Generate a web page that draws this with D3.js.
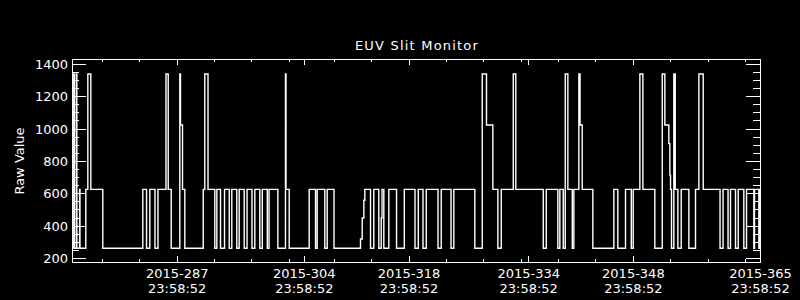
<!DOCTYPE html>
<html>
<head>
<meta charset="utf-8">
<script src="https://cdn.jsdelivr.net/npm/d3@7"></script>
<style>
  body { margin: 0; background: #000; }
  svg { display: block; }
  text { font-family: "DejaVu Sans", sans-serif; fill: #fff; }
</style>
</head>
<body>
<svg id="chart" width="800" height="300"></svg>
<script>
// day of 2015 where the raw value changes, and the value it changes to
const stepDay = [
  273.09, 273.17, 273.25, 273.51, 273.58, 273.95, 274.00, 274.78, 275.05, 275.45,
  277.05, 282.40, 282.90, 283.34, 284.03, 284.43, 285.50, 285.80, 286.20, 287.35,
  287.44, 287.71, 288.02, 290.48, 290.69, 291.12, 292.03, 292.30, 292.79, 293.33,
  293.96, 294.30, 294.97, 295.29, 295.96, 296.34, 297.00, 297.38, 298.05, 298.38,
  299.05, 299.28, 300.46, 301.48, 301.55, 301.98, 304.65, 305.50, 305.72, 306.74,
  307.06, 307.97, 311.51, 311.74, 311.96, 312.09, 312.85, 313.29, 313.96, 314.28,
  314.39, 314.63, 315.30, 316.33, 317.37, 318.80, 319.24, 319.87, 320.30, 321.88,
  322.31, 323.62, 323.99, 326.80, 327.79, 328.36, 329.21, 329.88, 330.33, 331.94,
  332.28, 335.95, 336.35, 337.90, 338.17, 338.62, 338.89, 339.24, 339.83, 340.04,
  340.71, 340.87, 341.16, 342.58, 345.39, 345.92, 346.95, 347.72, 347.98, 348.87,
  349.27, 350.87, 351.86, 352.21, 352.74, 352.88, 352.97, 353.10, 353.41, 353.60,
  353.95, 354.40, 355.42, 356.31, 356.76, 357.34, 359.59, 359.99, 360.66, 360.99,
  361.66, 362.02, 362.77, 363.13, 364.11, 364.20, 364.78, 364.87, 365.00
];
const stepValue = [
  263, 1340, 263, 1340, 263, 627, 263, 627, 1340, 627,
  263, 627, 263, 627, 263, 627, 1340, 627, 263, 1340,
  1025, 627, 263, 627, 1340, 627, 263, 627, 263, 627,
  263, 627, 263, 627, 263, 627, 263, 627, 263, 627,
  263, 627, 263, 1340, 627, 263, 627, 263, 627, 263,
  627, 263, 320, 450, 560, 627, 263, 627, 263, 450,
  627, 263, 627, 263, 627, 263, 627, 263, 627, 263,
  627, 263, 627, 263, 1340, 1025, 627, 263, 627, 1340,
  627, 263, 627, 263, 627, 263, 1340, 627, 263, 627,
  1340, 1025, 627, 263, 627, 263, 627, 263, 627, 1340,
  627, 263, 1340, 1025, 910, 715, 627, 263, 1340, 627,
  263, 627, 263, 627, 1340, 627, 263, 627, 263, 627,
  263, 627, 263, 627, 263, 627, 263, 627, 627
];

const yMajor = [200, 400, 600, 800, 1000, 1200, 1400];
const yMinor = d3.range(200, 1401, 50);
const xMajorDay = [287, 304, 318, 334, 348, 365];
const xMajorLabel = ["2015-287", "2015-304", "2015-318", "2015-334", "2015-348", "2015-365"];
const xTimeLabel = "23:58:52";
const xMinorDay = [277, 282, 292, 297, 302, 308, 313, 323, 328, 333, 338, 343, 353, 358, 363];

const svg = d3.select("#chart");
svg.append("rect").attr("width", 800).attr("height", 300).attr("fill", "#000");

const x = d3.scaleLinear().domain([273, 365]).range([72, 760]);
const y = d3.scaleLinear().domain([175, 1430]).range([262, 59]);

// data line
const pts = stepDay.map((d, i) => [d, stepValue[i]]);
const line = d3.line()
  .x(d => x(d[0]))
  .y(d => y(d[1]))
  .curve(d3.curveStepAfter);

svg.append("g")
  .attr("transform", "translate(0.5,0.5)")
  .append("path")
  .datum(pts)
  .attr("d", line)
  .attr("fill", "none")
  .attr("stroke", "#fff")
  .attr("stroke-width", 1.4);

// axes, ticks pointing inward like IDL
function addAxis(axis, tx, ty) {
  const g = svg.append("g")
    .attr("transform", `translate(${tx},${ty})`)
    .attr("color", "#fff")
    .attr("shape-rendering", "crispEdges")
    .call(axis);
  g.select(".domain").remove();
  g.selectAll("text")
    .attr("font-family", "DejaVu Sans, sans-serif")
    .attr("font-size", 13)
    .attr("fill", "#fff");
  return g;
}

addAxis(d3.axisLeft(y).tickValues(yMinor).tickSize(-7).tickFormat(""), 72, 0);
addAxis(d3.axisRight(y).tickValues(yMinor).tickSize(-7).tickFormat(""), 760, 0);
addAxis(d3.axisLeft(y).tickValues(yMajor).tickSize(-14).tickPadding(4).tickFormat(d3.format("d")), 72, 0)
  .selectAll("text").attr("dy", "0.36em");
addAxis(d3.axisRight(y).tickValues(yMajor).tickSize(-14).tickFormat(""), 760, 0);

addAxis(d3.axisBottom(x).tickValues(xMinorDay).tickSize(-3).tickFormat(""), 0, 262);
addAxis(d3.axisTop(x).tickValues(xMinorDay).tickSize(-3).tickFormat(""), 0, 59);
addAxis(d3.axisTop(x).tickValues(xMajorDay).tickSize(-6).tickFormat(""), 0, 59);

const bottom = addAxis(d3.axisBottom(x).tickValues(xMajorDay).tickSize(-6), 0, 262);
bottom.selectAll("text").each(function(d, i) {
  const t = d3.select(this).text(null).attr("dy", null).attr("y", null);
  t.append("tspan").attr("x", 0).attr("y", 16).text(xMajorLabel[i]);
  t.append("tspan").attr("x", 0).attr("y", 30.5).text(xTimeLabel);
});

// frame
svg.append("rect")
  .attr("x", 72.5).attr("y", 59.5)
  .attr("width", 688).attr("height", 203)
  .attr("fill", "none")
  .attr("stroke", "#fff")
  .attr("shape-rendering", "crispEdges");

svg.append("text")
  .attr("x", 417).attr("y", 49.5)
  .attr("text-anchor", "middle")
  .attr("font-size", 13)
  .attr("letter-spacing", 1.2)
  .text("EUV Slit Monitor");

svg.append("text")
  .attr("transform", "translate(23.5,161) rotate(-90)")
  .attr("text-anchor", "middle")
  .attr("font-size", 13)
  .text("Raw Value");
</script>
</body>
</html>
